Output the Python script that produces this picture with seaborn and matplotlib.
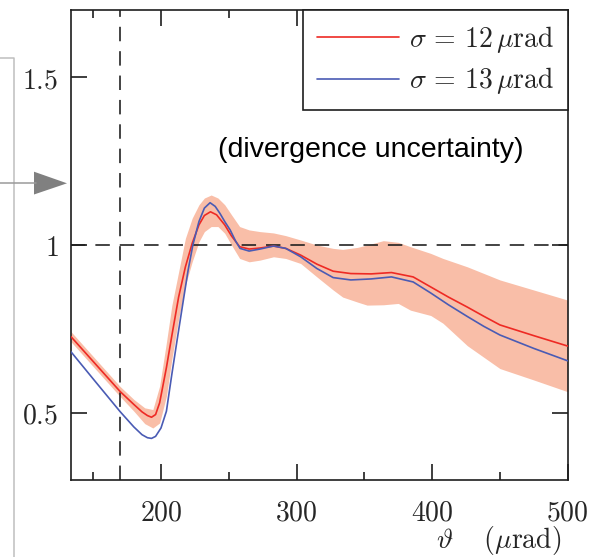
import numpy as np
import pandas as pd
import matplotlib
matplotlib.use("Agg")
import matplotlib.pyplot as plt
import seaborn as sns
from matplotlib.lines import Line2D
from matplotlib.patches import Polygon
from matplotlib.ticker import FixedLocator

# ---- data ----
red_theta = [133.6, 150, 170, 180, 186, 190, 193, 196, 199, 204, 208, 213, 218, 223, 228, 232,
             236.5, 241, 247, 252, 258, 265, 273, 283, 292, 303, 315, 327, 340, 355, 370, 386,
             399, 412, 426, 438, 450, 475, 500]
red_ratio = [0.727, 0.653, 0.563, 0.525, 0.503, 0.492, 0.487, 0.495, 0.53, 0.635, 0.73, 0.845,
             0.935, 1.005, 1.06, 1.088, 1.099, 1.09, 1.06, 1.027, 0.995, 0.988, 0.991, 0.997,
             0.99, 0.97, 0.943, 0.922, 0.915, 0.914, 0.918, 0.905, 0.875, 0.845, 0.815, 0.788,
             0.762, 0.73, 0.699]

blue_theta = [133.6, 150, 170, 180, 186, 190, 193, 196, 200, 204, 208, 212, 216.5, 220, 223.5,
              228, 232, 236.2, 240, 243.5, 247, 251, 255, 258.3, 265, 273, 283, 292, 303, 315,
              327, 340, 355, 370, 386, 399, 412, 426, 438, 450, 475, 500]
blue_ratio = [0.682, 0.601, 0.503, 0.458, 0.435, 0.426, 0.424, 0.43, 0.455, 0.505, 0.615, 0.72,
              0.836, 0.925, 1.0, 1.07, 1.11, 1.126, 1.115, 1.094, 1.07, 1.045, 1.012, 0.99,
              0.982, 0.988, 0.997, 0.99, 0.965, 0.93, 0.903, 0.896, 0.899, 0.905, 0.89, 0.857,
              0.822, 0.787, 0.758, 0.732, 0.692, 0.655]

band_theta = [133.6, 150, 170, 180, 188, 194, 199, 204, 208, 213, 218, 223, 228, 232, 237, 242,
              247, 252, 258, 265, 273, 283, 292, 303, 315, 327, 334, 345, 352, 364, 375, 384,
              399, 408, 426, 450, 475, 500]
band_upper = [0.742, 0.668, 0.578, 0.54, 0.515, 0.51, 0.58, 0.71, 0.82, 0.92, 1.02, 1.08, 1.12,
              1.14, 1.149, 1.14, 1.12, 1.09, 1.055, 1.045, 1.04, 1.036, 1.028, 1.015, 1.0, 0.99,
              0.987, 0.993, 1.0, 1.013, 1.008, 0.995, 0.975, 0.96, 0.935, 0.896, 0.866, 0.836]
band_lower = [0.712, 0.638, 0.548, 0.505, 0.468, 0.455, 0.47, 0.55, 0.66, 0.78, 0.88, 0.95, 1.01,
              1.04, 1.055, 1.055, 1.035, 1.0, 0.96, 0.95, 0.955, 0.965, 0.96, 0.945, 0.905,
              0.866, 0.845, 0.83, 0.821, 0.822, 0.826, 0.806, 0.79, 0.767, 0.70, 0.632, 0.598,
              0.563]

series_labels = [r"$\sigma\,=\,12\,\mu\mathrm{rad}$", r"$\sigma\,=\,13\,\mu\mathrm{rad}$"]
x_ticks = [200, 300, 400, 500]
x_minor = [150, 250, 350, 450]
y_ticks = [0.5, 1.0, 1.5]
y_tick_labels = ["0.5", "1", "1.5"]
ref_theta = 170
ref_ratio = 1.0
annotation = "(divergence uncertainty)"

# ---- style ----
sns.set_style("ticks")
plt.rcParams["font.family"] = ["DejaVu Sans"]
plt.rcParams["mathtext.fontset"] = "cm"

RED = "#EE2A24"
BLUE = "#4A5BB4"
BAND = "#F9BEA8"
INK = "#1E1E1E"

fig = plt.figure(figsize=(5.91, 5.57), dpi=100)
ax = fig.add_axes([0.1201, 0.1382, 0.8405, 0.8438])

ax.fill_between(band_theta, band_lower, band_upper, color=BAND, lw=0, zorder=1)
ax.axhline(ref_ratio, color=INK, lw=1.3, ls=(0, (8, 5.5)), alpha=0.9, zorder=2)
ax.axvline(ref_theta, color=INK, lw=1.3, ls=(0, (8, 5.5)), alpha=0.9, zorder=2)

df = pd.concat([
    pd.DataFrame({"theta": red_theta, "ratio": red_ratio, "series": series_labels[0]}),
    pd.DataFrame({"theta": blue_theta, "ratio": blue_ratio, "series": series_labels[1]}),
], ignore_index=True)
sns.lineplot(data=df, x="theta", y="ratio", hue="series", palette=[RED, BLUE],
             estimator=None, sort=True, lw=1.2, ax=ax, zorder=3)

ax.set_xlim(133.6, 500)
ax.set_ylim(0.30, 1.70)

ax.set_xticks(x_ticks)
ax.set_xticklabels([f"${t}$" for t in x_ticks], fontsize=20)
ax.xaxis.set_minor_locator(FixedLocator(x_minor))
ax.set_yticks(y_ticks)
ax.set_yticklabels([f"${t}$" for t in y_tick_labels], fontsize=20)
ax.tick_params(axis="both", which="major", direction="in", length=11.5, width=1.2,
               top=True, right=True, color=INK)
ax.tick_params(axis="x", which="major", pad=13)
ax.tick_params(axis="y", which="major", pad=9)
ax.tick_params(axis="both", which="minor", direction="in", length=6, width=1.2,
               top=True, right=True, color=INK)
for s in ax.spines.values():
    s.set_linewidth(1.2)
    s.set_color(INK)

ax.set_xlabel(r"$\vartheta\quad\;(\mu\mathrm{rad})$", fontsize=20)
ax.set_ylabel("")
ax.xaxis.set_label_coords(0.988, -0.093)
ax.xaxis.label.set_horizontalalignment("right")

handles, labels = ax.get_legend_handles_labels()
leg = ax.legend(handles, labels, loc="upper right", borderaxespad=0, fontsize=20,
                handlelength=2.95, handletextpad=0.35, labelspacing=0.38,
                borderpad=0.5, fancybox=False, framealpha=1, edgecolor=INK)
leg.get_frame().set_linewidth(1.2)

ax.text(355, 1.283, annotation, fontsize=20.5, family=["Liberation Sans", "DejaVu Sans"],
        ha="center", va="center", color="black", zorder=4)

# ---- figure-level annotation lines (outside the axes) ----
W, H = 591.0, 557.0
def fx(px):
    return px / W
def fy(py):
    return 1 - py / H

fig.add_artist(Line2D([fx(0), fx(14.5), fx(14.5)], [fy(58.3), fy(58.3), fy(557)],
                      transform=fig.transFigure, color="#BEBEBE", lw=1.1))
fig.add_artist(Line2D([fx(0), fx(36)], [fy(183.3), fy(183.3)],
                      transform=fig.transFigure, color="#9A9A9A", lw=1.1))
fig.add_artist(Polygon([[fx(34), fy(171.7)], [fx(67), fy(183.3)], [fx(34), fy(194.5)]],
                       closed=True, transform=fig.transFigure, facecolor="#808080",
                       edgecolor="none"))

fig.savefig("out.png", dpi=100)
